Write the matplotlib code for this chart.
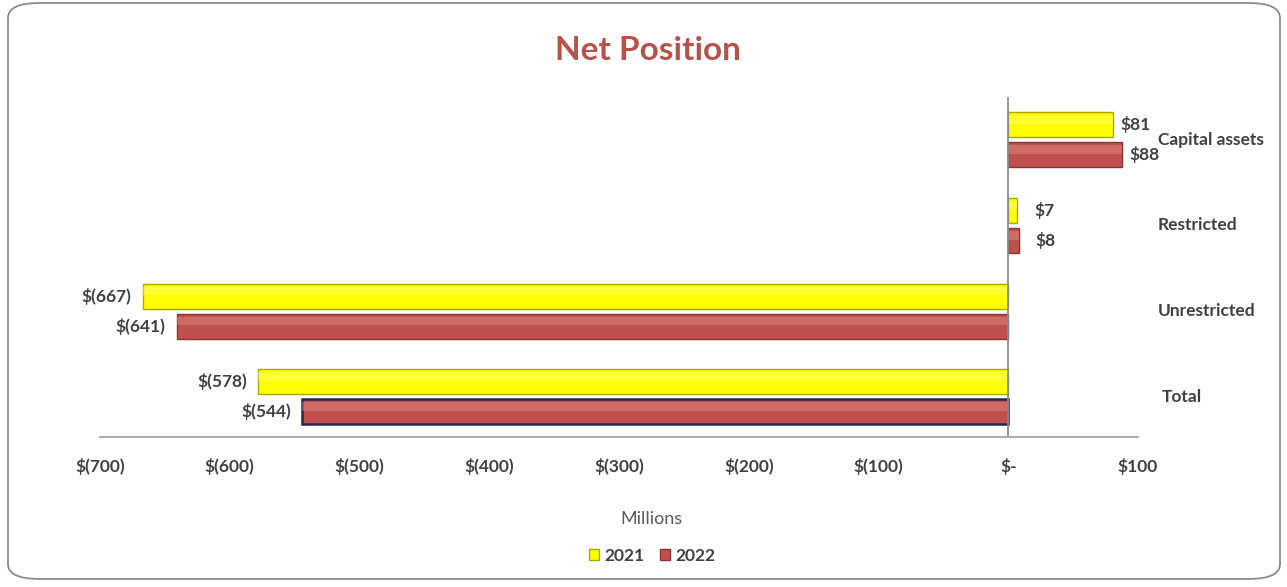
import matplotlib.pyplot as plt
import matplotlib.transforms as mtransforms
from matplotlib.patches import FancyBboxPatch
import numpy as np

# data (millions)
CATEGORIES = ['Capital assets', 'Restricted', 'Unrestricted', 'Total']
VALUES_2021 = [81, 7, -667, -578]
VALUES_2022 = [88, 8, -641, -544]
TICKS = [-700, -600, -500, -400, -300, -200, -100, 0, 100]

YELLOW = '#FFFF00'
YELLOW_EDGE = '#A8A800'
RED = '#C0504D'
RED_EDGE = '#8C3330'
TEXT = '#404040'
TITLE = '#B5524A'
FONT = 'Lato'
FS = 12.5

plt.rcParams['font.family'] = [FONT, 'DejaVu Sans']


def money(v):
    if v == 0:
        return '$-'
    if v < 0:
        return '$({:,.0f})'.format(-v)
    return '${:,.0f}'.format(v)


fig = plt.figure(figsize=(12.87, 5.87), dpi=100)

# rounded frame round the chart
frame = FancyBboxPatch((8 / 1287, 8 / 587), 1272 / 1287, 576 / 587,
                       boxstyle='round,pad=0,rounding_size=0.025',
                       transform=fig.transFigure, facecolor='white',
                       edgecolor='#8C8C8C', linewidth=1.3, zorder=-10)
fig.patches.append(frame)

ax = fig.add_axes([100 / 1287, 1 - 437 / 587, 1038 / 1287, 340 / 587])
ax.set_facecolor('none')

y = np.arange(len(CATEGORIES))
h = 0.29
off = 0.175
bars21 = ax.barh(y - off, VALUES_2021, height=h, color=YELLOW,
                 edgecolor=YELLOW_EDGE, linewidth=1.0, label='2021', zorder=3)
bars22 = ax.barh(y + off, VALUES_2022, height=h, color=RED,
                 edgecolor=RED_EDGE, linewidth=1.0, label='2022', zorder=3)
# the total 2022 bar has a dark blue outline
bars22[-1].set_edgecolor('#1F2757')
bars22[-1].set_linewidth(1.8)

# soft light band near the top of each bar, stands in for the bevel
ax.barh(y - off - h * 0.2, VALUES_2021, height=h * 0.35, color='#FFFF99',
        linewidth=0, zorder=4, alpha=0.35)
ax.barh(y + off - h * 0.2, VALUES_2022, height=h * 0.35, color='#E59590',
        linewidth=0, zorder=4, alpha=0.4)

# data labels
for vals, ys in ((VALUES_2021, y - off), (VALUES_2022, y + off)):
    for v, yy in zip(vals, ys):
        if v < 0:
            ax.annotate(money(v), (v, yy), xytext=(-8, 0), textcoords='offset points',
                        ha='right', va='center', fontsize=FS, fontweight='bold', color=TEXT)
        else:
            # small bars get their label pushed further out, as in the original
            dx = 5 if v > 20 else 12
            ax.annotate(money(v), (v, yy), xytext=(dx, 0), textcoords='offset points',
                        ha='left', va='center', fontsize=FS, fontweight='bold', color=TEXT)

# category names on the right side, outside the plot area
name_tr = mtransforms.blended_transform_factory(fig.transFigure, ax.transData)
for name, yy in zip(CATEGORIES, y):
    xpx = 1162 if name == 'Total' else 1158
    ax.text(xpx / 1287, yy, name, transform=name_tr, ha='left',
            va='center', fontsize=FS, fontweight='bold', color=TEXT)

ax.set_xlim(-700, 100)
ax.set_ylim(3.47, -0.5)
ax.axvline(0, color='#8C8C8C', linewidth=1.3, zorder=5)

ax.set_xticks(TICKS)
ax.set_xticklabels([money(t) for t in TICKS], fontsize=FS, fontweight='bold', color=TEXT)
ax.tick_params(axis='x', length=0, pad=15)
ax.set_yticks([])
for s in ('top', 'right', 'left'):
    ax.spines[s].set_visible(False)
ax.spines['bottom'].set_color('#A6A6A6')
ax.spines['bottom'].set_linewidth(1.3)

fig.text(648 / 1287, 1 - 50 / 587, 'Net Position', ha='center', va='center',
         fontsize=24, fontweight='bold', color=TITLE)
fig.text(651 / 1287, 1 - 519 / 587, 'Millions', ha='center', va='center',
         fontsize=13, color='#595959')

leg = fig.legend(handles=[bars21, bars22], labels=['2021', '2022'], loc='center',
                 bbox_to_anchor=(652 / 1287, 1 - 556 / 587), ncol=2, frameon=False,
                 handlelength=0.6, handleheight=0.6, handletextpad=0.3, columnspacing=0.9,
                 prop={'size': FS, 'weight': 'bold'})
for t in leg.get_texts():
    t.set_color(TEXT)

fig.savefig('out.png', dpi=100)
